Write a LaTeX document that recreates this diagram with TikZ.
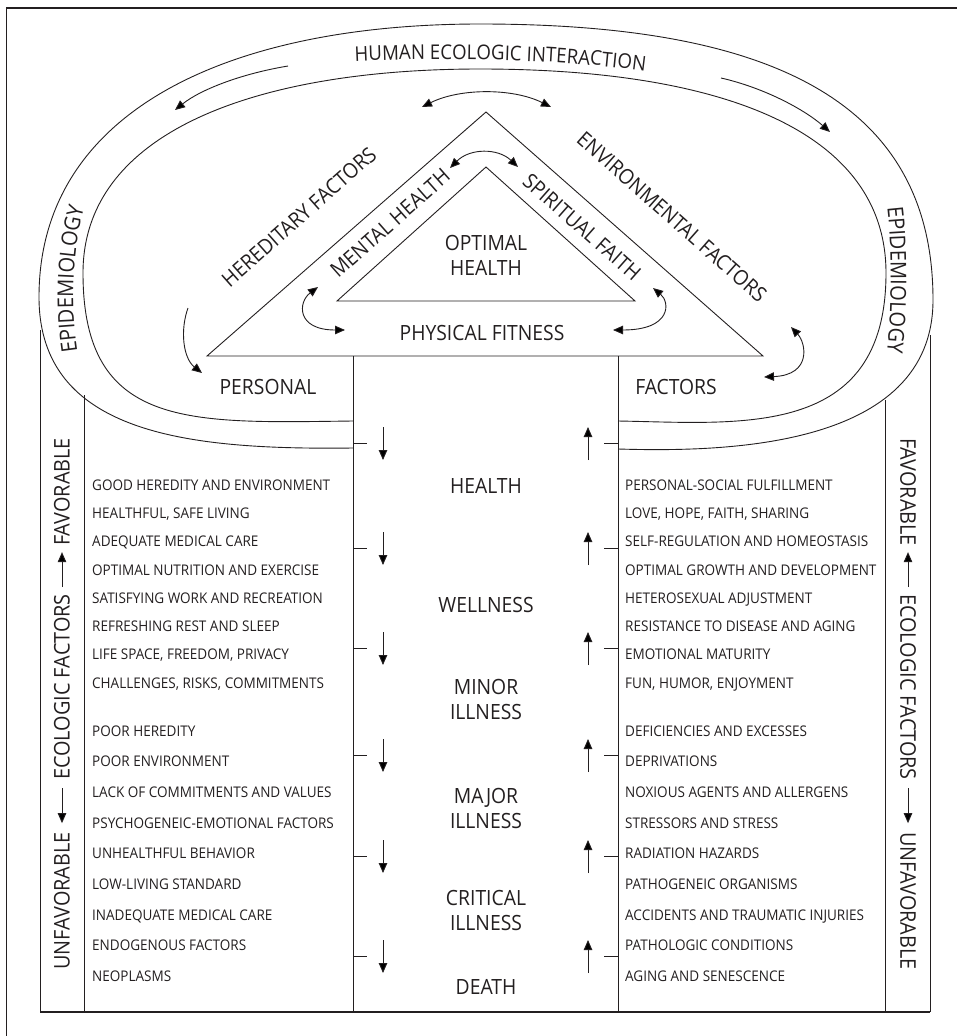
\documentclass[tikz,border=0pt]{standalone}
\usepackage{fontspec}
\setmainfont[FakeStretch=0.92]{Open Sans}
\usetikzlibrary{arrows.meta,decorations.text}
\definecolor{ink}{RGB}{35,31,32}
\tikzset{
  ln/.style={line width=0.9pt, draw=ink},
  tip/.style={-{Triangle[length=10pt,width=8.5pt]}},
  dtip/.style={{Triangle[length=10pt,width=8.5pt]}-{Triangle[length=10pt,width=8.5pt]}},
  lst/.style={anchor=west, inner sep=0pt, text height=10.5pt, text depth=0pt,
              font=\fontsize{14.7pt}{16pt}\selectfont, text=ink},
  big/.style={inner sep=0pt, font=\fontsize{21pt}{25pt}\selectfont, text=ink, align=center},
  side/.style={inner sep=0pt, font=\fontsize{21.6pt}{24pt}\selectfont, text=ink},
}
\begin{document}
\begin{tikzpicture}[x=1pt,y=-1pt]
\useasboundingbox (0,0) rectangle (956,1036);
% frame (cut off at right and bottom)
\draw[line width=1.6pt, ink] (6.5,1045) -- (6.5,8) -- (965,8);

% ---- oval band ----
\draw[ln] (353,448) .. controls (190,450) and (39,435) .. (39,297)
          .. controls (39,110) and (230,24) .. (480,24)
          .. controls (760,24) and (933,95) .. (933,300)
          .. controls (933,450) and (720,452) .. (618,449);
\draw[ln] (353,421) .. controls (190,423) and (83,430) .. (83,273)
          .. controls (83,130) and (260,69) .. (480,69)
          .. controls (720,69) and (886,130) .. (886,273)
          .. controls (886,440) and (740,423) .. (618,421);

% ---- columns ----
\draw[ln] (40,330) -- (40,1012);
\draw[ln] (84,395) -- (84,1012);
\draw[ln] (353,356) -- (353,1012);
\draw[ln] (618,356) -- (618,1012);
\draw[ln] (885,400) -- (885,1012);
\draw[ln] (930,335) -- (930,1012);
\draw[ink, line width=1.3pt] (40,1012) -- (930,1012);

% ---- triangles ----
\coordinate (oL) at (207,356); \coordinate (oT) at (486,112); \coordinate (oR) at (763,356);
\coordinate (iL) at (337,301); \coordinate (iT) at (486,167); \coordinate (iR) at (635,301);
\draw[ln] (oL) -- (oT) -- (oR) -- cycle;
\draw[ln] (iL) -- (iT) -- (iR) -- cycle;

% ---- texts in upper part ----
\path[decorate, decoration={text along path, text align=center, text color=ink,
      text={|\fontsize{20.3pt}{22pt}\selectfont|HUMAN ECOLOGIC INTERACTION}}]
   (340,62) .. controls (430,57) and (560,58) .. (660,73);
\path[decorate, decoration={text along path, text align=center, text color=ink,
      text={|\fontsize{21.8pt}{22pt}\selectfont|EPIDEMIOLOGY}}]
   (82,375) .. controls (70,330) and (68,240) .. (92,185);
\path[decorate, decoration={text along path, text align=center, text color=ink,
      text={|\fontsize{21.8pt}{22pt}\selectfont|EPIDEMIOLOGY}}]
   (884,185) .. controls (893,230) and (893,320) .. (884,375);

\node[big, rotate=41.5] (hered) at (299,217) {HEREDITARY FACTORS};
\node[big, rotate=41.5] (mental) at (390,223) {MENTAL HEALTH};
\node[big, rotate=-41.5] (spirit) at (582,227) {SPIRITUAL FAITH};
\node[big, rotate=-41.5] (envir) at (672,217) {ENVIRONMENTAL FACTORS};
\node[big] (optimal) at (486,255) {OPTIMAL\\HEALTH};
\node[big] (physical) at (482,333) {PHYSICAL FITNESS};
\node[big] (personal) at (268,387) {PERSONAL};
\node[big] (factors) at (676,387) {FACTORS};

% ---- curved arrows in upper part ----
\coordinate (ba1) at (288,66);  \coordinate (ba2) at (175,110);
\coordinate (bb1) at (721,78);  \coordinate (bb2) at (830,132);
\draw[ln,tip] (ba1) .. controls (240,74) and (200,90) .. (ba2);
\draw[ln,tip] (bb1) .. controls (765,88) and (805,110) .. (bb2);
\coordinate (ta1) at (422,107); \coordinate (ta2) at (551,107);
\draw[ln,dtip] (ta1) .. controls (460,88) and (513,88) .. (ta2);
\coordinate (aa1) at (450,168); \coordinate (aa2) at (518,167);
\draw[ln,dtip] (aa1) .. controls (470,148) and (498,148) .. (aa2);
\coordinate (la1) at (318,287); \coordinate (la2) at (345,330);
\draw[ln,dtip] (la1) .. controls (298,302) and (296,330) .. (la2);
\coordinate (ra1) at (653,288); \coordinate (ra2) at (613,330);
\draw[ln,dtip] (ra1) .. controls (670,302) and (672,330) .. (ra2);
\coordinate (ha1) at (188,308); \coordinate (ha2) at (202,373);
\draw[ln,tip] (ha1) .. controls (180,330) and (183,358) .. (ha2);
\coordinate (ea1) at (791,327); \coordinate (ea2) at (764,377);
\draw[ln,dtip] (ea1) .. controls (806,343) and (812,375) .. (ea2);

% ---- ticks and vertical arrows ----
\foreach \t in {443,548,648,755,856,956}{
  \draw[ln] (353,\t) -- (367,\t);
  \draw[ln] (604,\t) -- (618,\t);
  \coordinate (da\t) at (383,\t-16); \coordinate (db\t) at (383,\t+17);
  \draw[ln,tip] (da\t) -- (db\t);
  \coordinate (ua\t) at (588,\t+17); \coordinate (ub\t) at (588,\t-16);
  \draw[ln,tip] (ua\t) -- (ub\t);
}

% ---- centre column ----
\node[big] (health) at (486,486) {HEALTH};
\node[big] (wellness) at (486,605) {WELLNESS};
\node[big] (minor) at (486,699) {MINOR\\ILLNESS};
\node[big] (major) at (486,808) {MAJOR\\ILLNESS};
\node[big] (critical) at (486,910) {CRITICAL\\ILLNESS};
\node[big] (death) at (486,987) {DEATH};

% ---- left list ----
\foreach \y/\s in {485/{GOOD HEREDITY AND ENVIRONMENT},513/{HEALTHFUL, SAFE LIVING},
  541/{ADEQUATE MEDICAL CARE},570/{OPTIMAL NUTRITION AND EXERCISE},
  598/{SATISFYING WORK AND RECREATION},626/{REFRESHING REST AND SLEEP},
  654/{LIFE SPACE, FREEDOM, PRIVACY},683/{CHALLENGES, RISKS, COMMITMENTS},
  731/{POOR HEREDITY},761/{POOR ENVIRONMENT},792/{LACK OF COMMITMENTS AND VALUES},
  823/{PSYCHOGENEIC-EMOTIONAL FACTORS},853/{UNHEALTHFUL BEHAVIOR},
  884/{LOW-LIVING STANDARD},915/{INADEQUATE MEDICAL CARE},
  945/{ENDOGENOUS FACTORS},976/{NEOPLASMS}}{
  \node[lst] (l\y) at (92,\y) {\s};
}
% ---- right list ----
\foreach \y/\s in {485/{PERSONAL-SOCIAL FULFILLMENT},513/{LOVE, HOPE, FAITH, SHARING},
  541/{SELF-REGULATION AND HOMEOSTASIS},570/{OPTIMAL GROWTH AND DEVELOPMENT},
  598/{HETEROSEXUAL ADJUSTMENT},626/{RESISTANCE TO DISEASE AND AGING},
  654/{EMOTIONAL MATURITY},683/{FUN, HUMOR, ENJOYMENT},
  731/{DEFICIENCIES AND EXCESSES},761/{DEPRIVATIONS},792/{NOXIOUS AGENTS AND ALLERGENS},
  823/{STRESSORS AND STRESS},853/{RADIATION HAZARDS},
  884/{PATHOGENEIC ORGANISMS},915/{ACCIDENTS AND TRAUMATIC INJURIES},
  945/{PATHOLOGIC CONDITIONS},976/{AGING AND SENESCENCE}}{
  \node[lst] (r\y) at (625,\y) {\s};
}

% ---- side labels ----
\node[side, rotate=90] (lfav) at (62,492) {FAVORABLE};
\node[side, rotate=90] (leco) at (62,687) {ECOLOGIC FACTORS};
\node[side, rotate=90] (lunf) at (62,901) {UNFAVORABLE};
\draw[ln,tip,shorten <=7pt,shorten >=6pt] (leco.east) -- (lfav.west);
\draw[ln,tip,shorten <=8pt,shorten >=9pt] (leco.west) -- (lunf.east);
\node[side, rotate=-90] (rfav) at (908,492) {FAVORABLE};
\node[side, rotate=-90] (reco) at (908,687) {ECOLOGIC FACTORS};
\node[side, rotate=-90] (runf) at (908,901) {UNFAVORABLE};
\draw[ln,tip,shorten <=7pt,shorten >=6pt] (reco.west) -- (rfav.east);
\draw[ln,tip,shorten <=8pt,shorten >=9pt] (reco.east) -- (runf.west);
\end{tikzpicture}
\end{document}
